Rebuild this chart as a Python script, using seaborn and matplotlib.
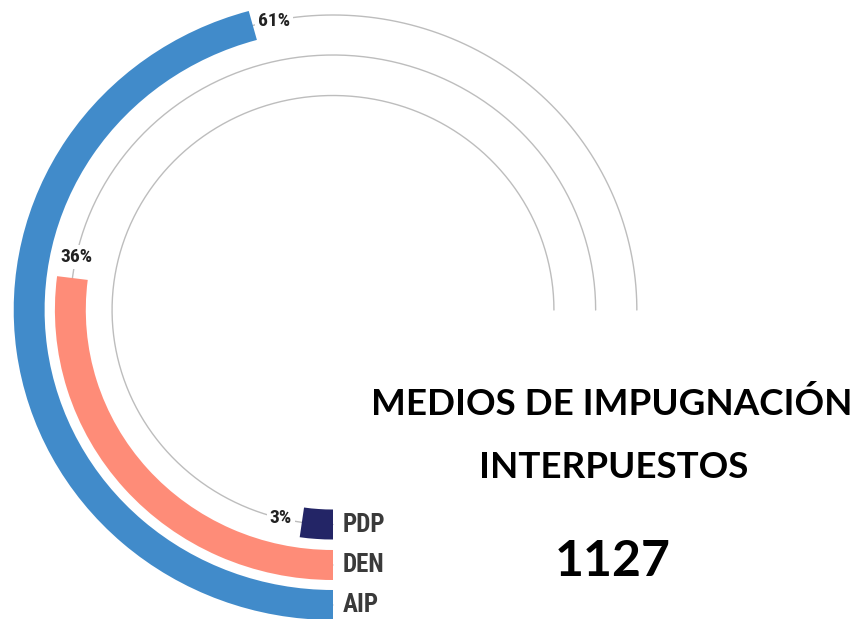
import os
import numpy as np
import matplotlib
matplotlib.use("Agg")
import matplotlib.pyplot as plt
from matplotlib import font_manager as fm
import seaborn as sns

# ---- data ----
categories = ["AIP", "DEN", "PDP"]
percent_values = [61, 36, 3]
total_label = "1127"
title_lines = ["MEDIOS DE IMPUGNACIÓN", "INTERPUESTOS"]

# ---- style ----
sns.set_theme(style="white")
colors = ["#418BCA", "#FE8C78", "#232566"]
W, H = 858, 619

# find a condensed bold font
cands = []
for f in fm.fontManager.ttflist:
    base = os.path.basename(f.fname).lower()
    if (("condensed" in base or "narrow" in base) and "bold" in base
            and "italic" not in base and "oblique" not in base
            and "semi" not in base and "extra" not in base):
        cands.append(f.fname)
cands = sorted(set(cands))
narrow_file = None
for key in ["robotocondensed", "opensanscondensed", "liberationsansnarrow",
            "dejavusanscondensed"]:
    for c in cands:
        if key in os.path.basename(c).lower().replace("-", "").replace("_", ""):
            narrow_file = c
            break
    if narrow_file:
        break
if narrow_file is None and cands:
    narrow_file = cands[0]


def nfont(size):
    if narrow_file:
        return fm.FontProperties(fname=narrow_file, size=size)
    return fm.FontProperties(family="DejaVu Sans", weight="bold", size=size)


title_font = ["Lato", "DejaVu Sans"]

fig = plt.figure(figsize=(W / 100, H / 100), dpi=100)
fig.patch.set_facecolor("white")

cx, cy = 333, 310          # centre in pixels (from top)
S = 335                    # vertical half-size in pixels (= radius units)
xs = 1.03                  # horizontal stretch of the rings
ax = fig.add_axes([(cx - S * xs) / W, (H - cy - S) / H, 2 * S * xs / W, 2 * S / H],
                  projection="polar")
ax.set_theta_zero_location("S")
ax.set_theta_direction(-1)
ax.set_ylim(0, S)
ax.set_aspect("auto")
ax.set_axis_off()

ring_mid = [295, 255, 214.5]
ring_w = 30
track = np.radians(270)

for cat, val, col, rm in zip(categories, percent_values, colors, ring_mid):
    th = np.linspace(0, track, 400)
    ax.plot(th, np.full_like(th, rm), color="#BDBDBD", lw=1.0, zorder=1)
    span = track * val / 100
    ax.bar(0, ring_w, width=span, bottom=rm - ring_w / 2, align="edge",
           color=col, edgecolor="none", zorder=3)
    delta = 21 / rm
    ax.text(span + delta, rm, f"{val}%", ha="center", va="center",
            fontproperties=nfont(14), color="#222222", zorder=4,
            bbox=dict(boxstyle="square,pad=0.15", fc="white", ec="none"))
    ax.annotate(cat, xy=(0, rm), xytext=(10, 0), textcoords="offset pixels",
                ha="left", va="center", fontproperties=nfont(18),
                color="#3A3A3A", zorder=4)

# ---- title and total ----
fig.text(612 / W, 1 - 404 / H, title_lines[0], ha="center", va="center",
         fontsize=26.5, fontweight="bold", color="black", family=title_font)
fig.text(614 / W, 1 - 468 / H, title_lines[1], ha="center", va="center",
         fontsize=26.5, fontweight="bold", color="black", family=title_font)
fig.text(613 / W, 1 - 562 / H, total_label, ha="center", va="center",
         fontsize=36, fontweight="bold", color="black", family=title_font)

fig.savefig("out.png", dpi=100, facecolor="white")
